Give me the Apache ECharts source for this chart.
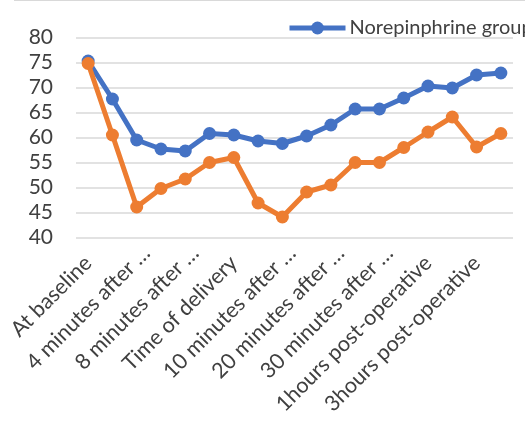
<!DOCTYPE html>
<html>
<head>
<meta charset="utf-8">
<script src="https://cdn.jsdelivr.net/npm/echarts@6/dist/echarts.min.js"></script>
<style>
html,body{margin:0;padding:0;background:#fff;}
#c{width:525px;height:446px;}
</style>
</head>
<body>
<div id="c"></div>
<script>
var categories = [
  "At baseline", "2 minutes after …", "4 minutes after …", "6 minutes after …",
  "8 minutes after …", "Skin incision", "Time of delivery", "5 minutes after …",
  "10 minutes after …", "15 minutes after …", "20 minutes after …", "25 minutes after …",
  "30 minutes after …", "End of surgery", "1hours post-operative", "2hours post-operative",
  "3hours post-operative", "4hours post-operative"
];
var norepinephrine = [75.3, 67.7, 59.5, 57.7, 57.3, 60.8, 60.5, 59.3, 58.8, 60.3, 62.5, 65.7, 65.7, 67.9, 70.3, 69.9, 72.5, 72.9];
var otherGroup = [74.8, 60.5, 46.1, 49.8, 51.7, 55.0, 56.0, 46.9, 44.1, 49.1, 50.5, 55.0, 55.0, 58.0, 61.1, 64.1, 58.1, 60.8];
var seriesNames = ["Norepinphrine group", "Phenylephrine group"];
var yTicks = { min: 40, max: 80, interval: 5 };

var axisData = categories.map(function (c) {
  return c.indexOf('…') >= 0 ? { value: c, textStyle: { padding: [0, -14, 0, 0] } } : c;
});

var chart = echarts.init(document.getElementById('c'));
var font = 'Lato, "Liberation Sans", sans-serif';
chart.setOption({
  animation: false,
  textStyle: { fontFamily: font },
  graphic: [{
    type: 'line', shape: { x1: 14, y1: 0.5, x2: 525, y2: 0.5 },
    style: { stroke: '#d9d9d9', lineWidth: 1 }
  }],
  legend: {
    left: 282, top: 13, width: 2000,
    itemWidth: 56, itemHeight: 16, itemGap: 20,
    lineStyle: { width: 5 },
    textStyle: { fontSize: 20, color: '#404040', fontFamily: font, padding: [0, 0, 0, -1] },
    data: seriesNames
  },
  grid: { left: 76, right: 12, top: 37.5, bottom: 208.5, containLabel: false },
  xAxis: {
    type: 'category', data: axisData, boundaryGap: true,
    axisLine: { show: false }, axisTick: { show: false },
    axisLabel: { interval: 1, rotate: 45, fontSize: 21.5, color: '#404040', margin: 22, fontFamily: font }
  },
  yAxis: {
    type: 'value', min: yTicks.min, max: yTicks.max, interval: yTicks.interval,
    axisLine: { show: false }, axisTick: { show: false },
    axisLabel: { fontSize: 21, color: '#404040', margin: 23, fontFamily: font },
    splitLine: { lineStyle: { color: '#d9d9d9', width: 1.5 } }
  },
  series: [
    { name: seriesNames[0], type: 'line', data: norepinephrine, symbol: 'circle', symbolSize: 13,
      itemStyle: { color: '#4472C4' }, lineStyle: { width: 5, color: '#4472C4' }, z: 2 },
    { name: seriesNames[1], type: 'line', data: otherGroup, symbol: 'circle', symbolSize: 13,
      itemStyle: { color: '#ED7D31' }, lineStyle: { width: 5, color: '#ED7D31' }, z: 3 }
  ]
});
</script>
</body>
</html>
